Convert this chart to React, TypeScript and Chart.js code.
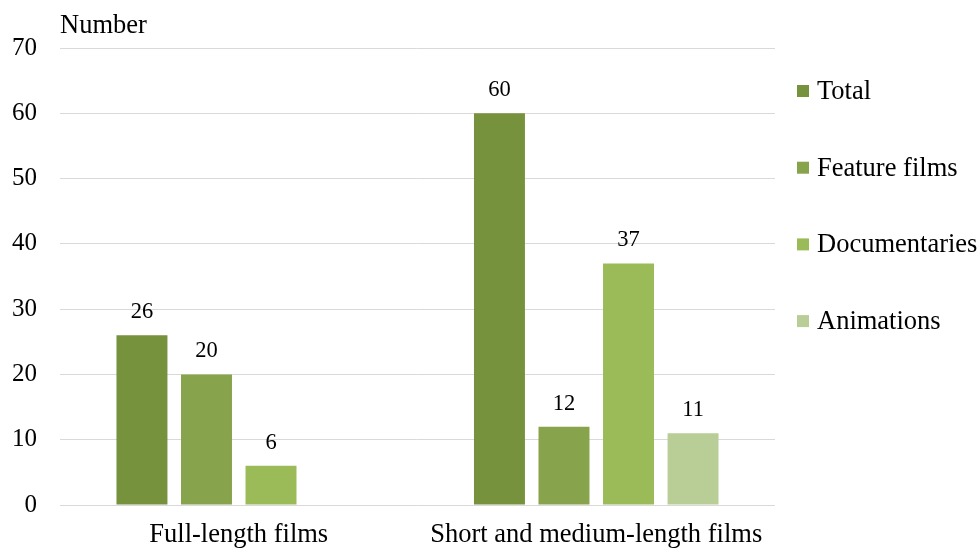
import React, { useEffect, useRef } from "react";
import { Chart, registerables } from "chart.js";

Chart.register(...registerables);

const categories = ["Full-length films", "Short and medium-length films"];
const seriesNames = ["Total", "Feature films", "Documentaries", "Animations"];
const totalValues = [26, 60];
const featureValues = [20, 12];
const documentaryValues = [6, 37];
const animationValues: (number | null)[] = [null, 11];
const seriesColors = ["#76923C", "#87A34B", "#9BBB59", "#B8CE96"];
const yMax = 70;
const yStep = 10;
const yTitle = "Number";

const FONT = "'Liberation Serif', 'Times New Roman', serif";

const labelPlugin = {
  id: "customLabels",
  afterDatasetsDraw(chart: any) {
    const ctx = chart.ctx;
    ctx.save();
    ctx.font = `22.5px ${FONT}`;
    ctx.fillStyle = "#000";
    ctx.textAlign = "center";
    ctx.textBaseline = "middle";
    chart.data.datasets.forEach((ds: any, di: number) => {
      const meta = chart.getDatasetMeta(di);
      meta.data.forEach((el: any, i: number) => {
        const v = ds.data[i];
        if (v === null || v === undefined) return;
        ctx.fillText(String(v), el.x, el.y - 23);
      });
    });
    ctx.restore();
  },
  afterDraw(chart: any) {
    const ctx = chart.ctx;
    const area = chart.chartArea;
    ctx.save();
    ctx.font = `26.5px ${FONT}`;
    ctx.fillStyle = "#000";
    ctx.textAlign = "left";
    ctx.textBaseline = "middle";
    ctx.fillText(yTitle, area.left, 26);
    // legend
    const boxX = area.right + 22;
    const textX = area.right + 42;
    chart.data.datasets.forEach((ds: any, i: number) => {
      const cy = 91 + i * 76.7;
      ctx.fillStyle = ds.backgroundColor;
      ctx.fillRect(boxX, cy - 6, 12, 12);
      ctx.fillStyle = "#000";
      ctx.fillText(ds.label, textX, cy + 1);
    });
    ctx.restore();
  },
};

export default function App() {
  const ref = useRef<HTMLCanvasElement | null>(null);
  useEffect(() => {
    document.body.style.margin = "0";
    if (!ref.current) return;
    const valueSets = [totalValues, featureValues, documentaryValues, animationValues];
    const chart = new Chart(ref.current, {
      type: "bar",
      data: {
        labels: categories,
        datasets: seriesNames.map((name, i) => ({
          label: name,
          data: valueSets[i],
          backgroundColor: seriesColors[i],
          borderWidth: 0,
          categoryPercentage: 0.722,
          barPercentage: 0.79,
        })),
      },
      options: {
        animation: false,
        responsive: true,
        maintainAspectRatio: false,
        layout: { padding: { top: 48, right: 204, left: 0, bottom: 0 } },
        plugins: {
          legend: { display: false },
          tooltip: { enabled: false },
          title: { display: false },
        },
        scales: {
          x: {
            grid: { display: false, drawTicks: false },
            border: { display: false },
            ticks: {
              font: { family: FONT, size: 26.5 },
              color: "#000",
              padding: 14,
              maxRotation: 0,
            },
            afterFit(scale: any) {
              scale.height = 43;
            },
          },
          y: {
            min: 0,
            max: yMax,
            grid: { color: "#D9D9D9", lineWidth: 1, drawTicks: false },
            border: { display: false },
            ticks: {
              stepSize: yStep,
              font: { family: FONT, size: 25 },
              color: "#000",
              padding: 23,
            },
            afterFit(scale: any) {
              scale.width = 60;
            },
          },
        },
      },
      plugins: [labelPlugin],
    });
    return () => chart.destroy();
  }, []);
  return (
    <div style={{ position: "fixed", left: 0, top: 0, width: 979, height: 548, background: "#fff" }}>
      <canvas ref={ref} />
    </div>
  );
}
